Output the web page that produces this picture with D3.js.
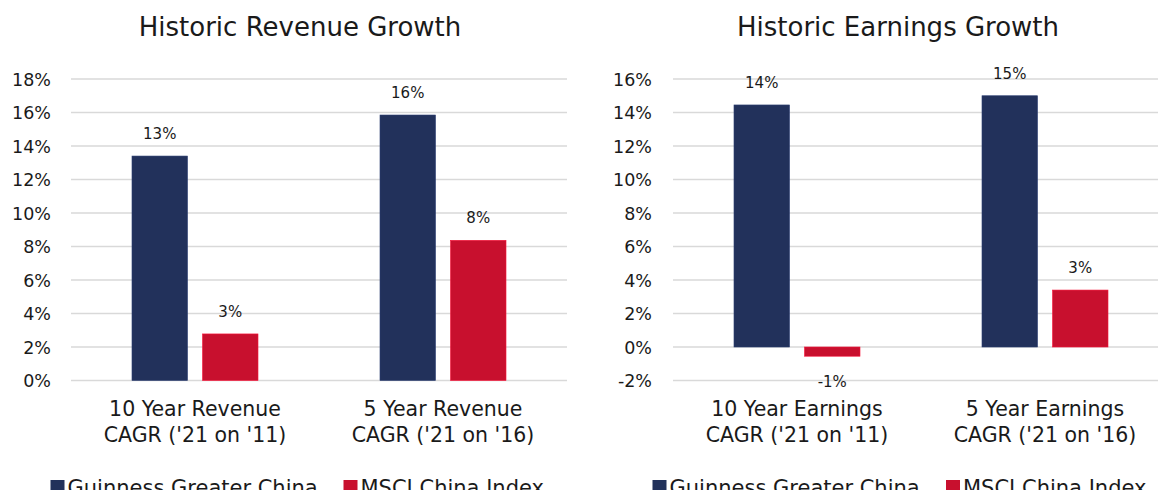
<!DOCTYPE html>
<html>
<head>
<meta charset="utf-8">
<script src="https://cdn.jsdelivr.net/npm/d3@7"></script>
<style>
    body { margin: 0; background: #fff; }
    svg text { font-family: "DejaVu Sans", sans-serif; fill: #1a1a1a; }
    .grid line { stroke: #d9d9d9; stroke-width: 1.5; }
    .title-text { font-size: 26px; }
    .tick-text { font-size: 17.5px; }
    .value-text { font-size: 15px; }
    .cat-text { font-size: 20.5px; }
    .legend-text { font-size: 21px; }
</style>
</head>
<body>
<svg id="svg" width="1158" height="490"></svg>
<script>
const seriesNames = ['Guinness Greater China', 'MSCI China Index'];
const seriesColors = ['#22315b', '#c8102e'];

const revenueCategories = [['10 Year Revenue', "CAGR ('21 on '11)"], ['5 Year Revenue', "CAGR ('21 on '16)"]];
const revenueGuinness = [13.4, 15.85];
const revenueMsci = [2.78, 8.37];
const revenueTicks = [0, 2, 4, 6, 8, 10, 12, 14, 16, 18];

const earningsCategories = [['10 Year Earnings', "CAGR ('21 on '11)"], ['5 Year Earnings', "CAGR ('21 on '16)"]];
const earningsGuinness = [14.45, 15.0];
const earningsMsci = [-0.55, 3.4];
const earningsTicks = [-2, 0, 2, 4, 6, 8, 10, 12, 14, 16];

const svg = d3.select('#svg');
const pct = d3.formatLocale({decimal: '.', thousands: ',', grouping: [3], currency: ['', ''], minus: '-'}).format('.0f');

function drawChart(opts) {
    const g = svg.append('g');
    const cats = opts.categories.map(c => c.join(' '));

    const x0 = d3.scaleBand().domain(cats).range([opts.left, opts.left + 496]);
    const x1 = d3.scaleBand().domain(seriesNames).range([0, x0.bandwidth()])
        .paddingInner(0.213).paddingOuter(0.865);
    const y = d3.scaleLinear().domain(d3.extent(opts.ticks)).range([380.5, 79]);

    // title
    g.append('text')
        .attr('class', 'title-text')
        .attr('x', opts.titleX)
        .attr('y', 36)
        .attr('text-anchor', 'middle')
        .text(opts.title);

    // gridlines
    g.append('g')
        .attr('class', 'grid')
        .selectAll('line')
        .data(opts.ticks)
        .join('line')
        .attr('x1', opts.left)
        .attr('x2', opts.left + 496)
        .attr('y1', d => y(d))
        .attr('y2', d => y(d));

    // y tick labels
    const yAxis = d3.axisLeft(y).tickValues(opts.ticks).tickSize(0).tickPadding(0)
        .tickFormat(d => pct(d) + '%');
    g.append('g')
        .attr('transform', 'translate(' + opts.labelRight + ',0)')
        .call(yAxis)
        .call(a => a.select('.domain').remove())
        .call(a => a.selectAll('text').attr('class', 'tick-text').attr('fill', null).attr('dy', '0.35em'));

    const rows = [];
    cats.forEach((c, i) => {
        opts.series.forEach((s, j) => rows.push({cat: c, name: seriesNames[j], color: seriesColors[j], value: s[i]}));
    });

    g.append('g')
        .selectAll('rect')
        .data(rows)
        .join('rect')
        .attr('x', d => x0(d.cat) + x1(d.name))
        .attr('width', x1.bandwidth())
        .attr('y', d => y(Math.max(0, d.value)))
        .attr('height', d => Math.abs(y(d.value) - y(0)))
        .attr('fill', d => d.color)
        .attr('stroke', d => d3.color(d.color).brighter(0.6))
        .attr('stroke-width', 0.6);

    g.append('g')
        .selectAll('text')
        .data(rows)
        .join('text')
        .attr('class', 'value-text')
        .attr('x', d => x0(d.cat) + x1(d.name) + x1.bandwidth() / 2)
        .attr('y', d => d.value >= 0 ? y(d.value) - 17 : y(d.value) + 31)
        .attr('text-anchor', 'middle')
        .text(d => pct(d.value) + '%');

    // category labels
    const catG = g.append('g')
        .selectAll('text')
        .data(opts.categories)
        .join('text')
        .attr('class', 'cat-text')
        .attr('text-anchor', 'middle')
        .attr('x', (d, i) => x0(cats[i]) + x0.bandwidth() / 2)
        .attr('y', 416);
    catG.selectAll('tspan')
        .data(d => d)
        .join('tspan')
        .attr('x', function() { return this.parentNode.getAttribute('x'); })
        .attr('dy', (d, i) => i === 0 ? 0 : 25.5)
        .text(d => d);

    // legend
    const leg = g.append('g')
        .selectAll('g')
        .data(seriesNames)
        .join('g')
        .attr('transform', (d, i) => 'translate(' + opts.legendX[i] + ',0)');
    leg.append('rect')
        .attr('x', 0)
        .attr('y', 480)
        .attr('width', 14)
        .attr('height', 14)
        .attr('fill', (d, i) => seriesColors[i]);
    leg.append('text')
        .attr('class', 'legend-text')
        .attr('x', 17)
        .attr('y', 494.5)
        .text(d => d);
}

drawChart({
    title: 'Historic Revenue Growth', titleX: 300, left: 71, labelRight: 51,
    categories: revenueCategories, series: [revenueGuinness, revenueMsci],
    ticks: revenueTicks, legendX: [50.5, 343.5]
});

drawChart({
    title: 'Historic Earnings Growth', titleX: 898, left: 673, labelRight: 652,
    categories: earningsCategories, series: [earningsGuinness, earningsMsci],
    ticks: earningsTicks, legendX: [652.5, 946]
});
</script>
</body>
</html>
